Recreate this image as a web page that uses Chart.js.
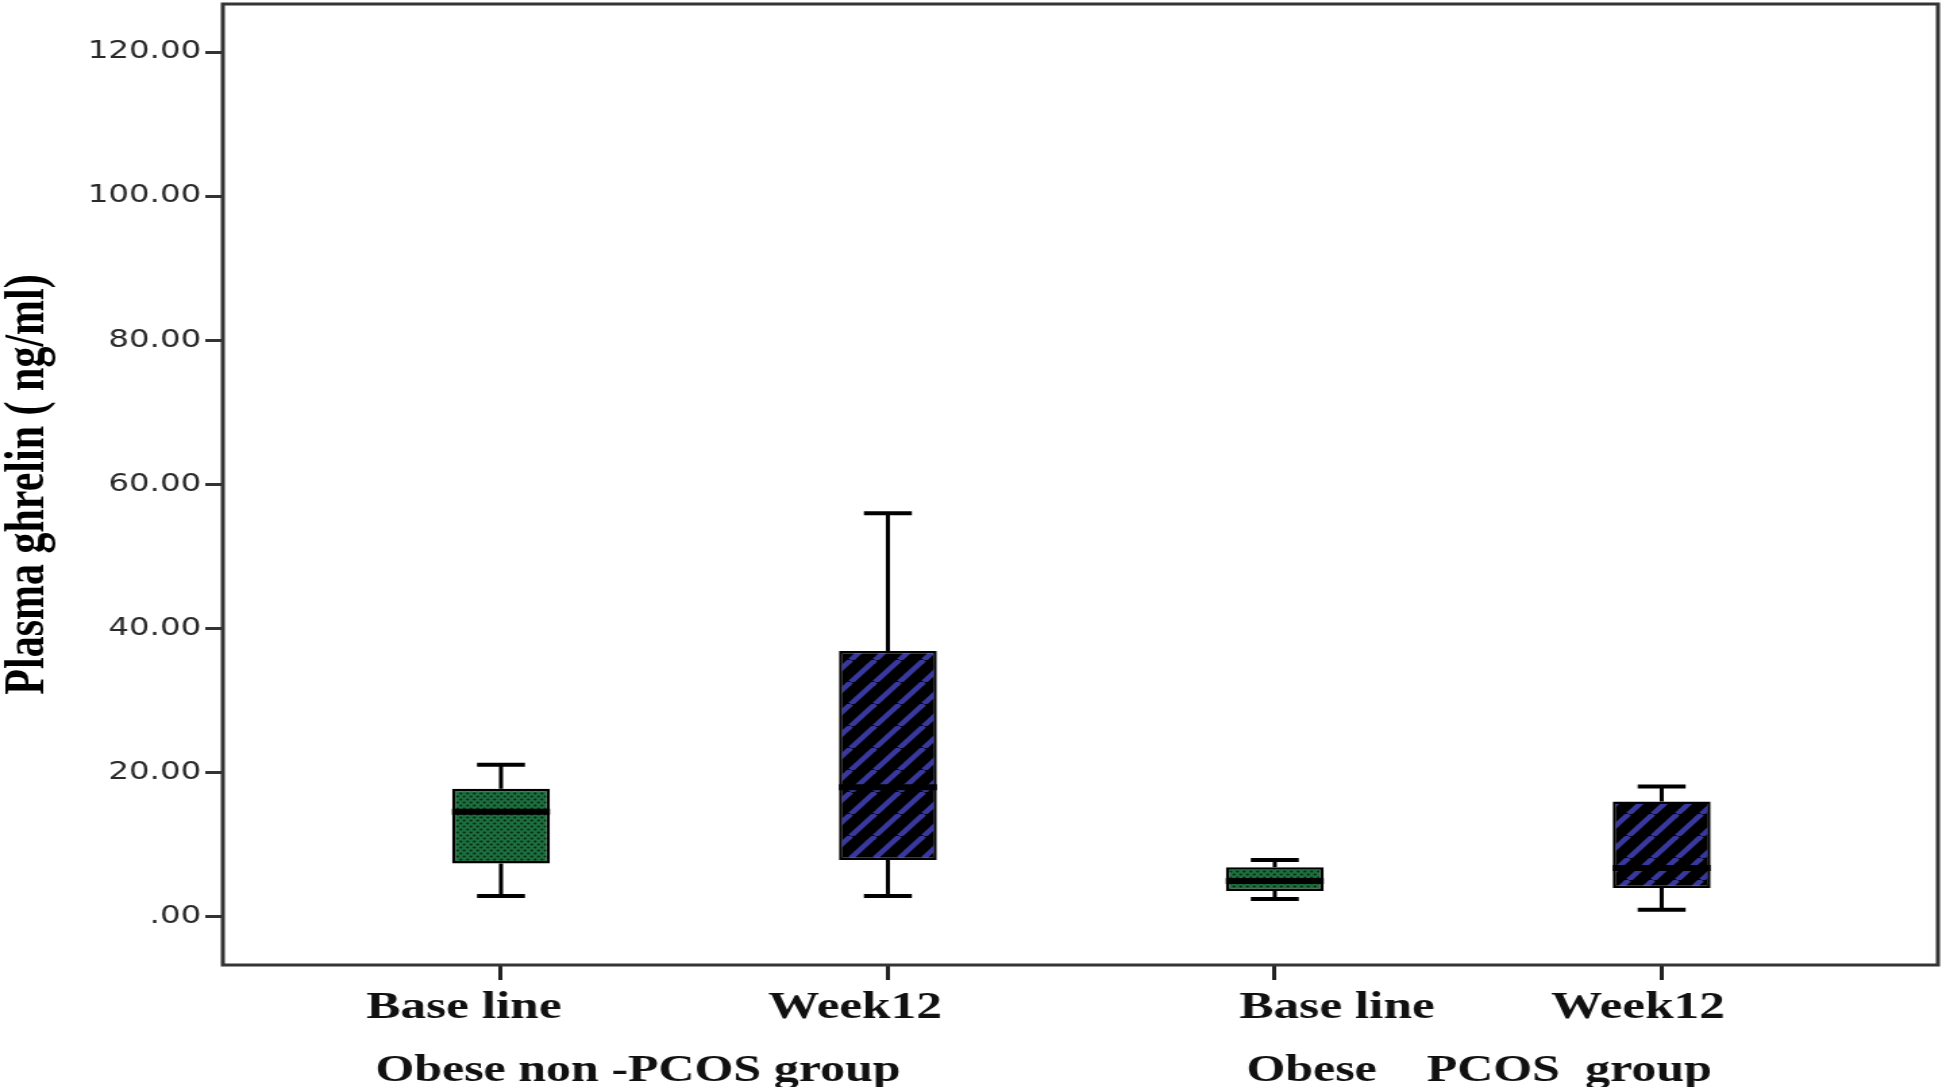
<!DOCTYPE html>
<html>
<head>
<meta charset="utf-8">
<title>Plasma ghrelin</title>
<script src="https://cdn.jsdelivr.net/npm/chart.js@4/dist/chart.umd.min.js"></script>
<style>
  html, body { margin: 0; padding: 0; background: #fff; overflow: hidden; }
  #plot { display: block; }
</style>
</head>
<body>
<!-- the source figure is stretched sideways, so the canvas is drawn narrow and widened by css -->
<canvas id="plot" width="1441" height="1087" style="width:1946px;height:1087px"></canvas>
<script>
const groups = ['Obese non -PCOS group', 'Obese    PCOS  group'];
const timepoints = ['Base line', 'Week12', 'Base line', 'Week12'];
const mins = [2.9, 2.9, 2.5, 1.0];
const q1s = [7.4, 7.9, 3.6, 4.0];
const medians = [14.6, 18.0, 5.0, 6.8];
const q3s = [17.8, 36.9, 6.9, 16.0];
const maxs = [21.1, 56.0, 7.9, 18.1];
const yTicks = [0, 20, 40, 60, 80, 100, 120];

// layout bits (x in axis units)
const positions = [1, 2, 3, 4];
const labelAt = [0.904, 1.915, 3.161, 3.939];
const groupAt = [1.354, 3.528];
const boxHalf = 0.1265;
const capHalf = 0.062;

function dotPattern() {
  const c = document.createElement('canvas');
  c.width = 5;
  c.height = 6;
  const g = c.getContext('2d');
  g.fillStyle = '#1d7040';
  g.fillRect(0, 0, 5, 6);
  g.fillStyle = '#08240f';
  g.beginPath();
  g.arc(1.25, 1.5, 1.1, 0, Math.PI * 2);
  g.arc(3.75, 4.5, 1.1, 0, Math.PI * 2);
  g.fill();
  return g.createPattern(c, 'repeat');
}

function stripePattern() {
  const w = 18, h = 22;
  const c = document.createElement('canvas');
  c.width = w;
  c.height = h;
  const g = c.getContext('2d');
  g.fillStyle = '#000';
  g.fillRect(0, 0, w, h);
  g.strokeStyle = '#38389e';
  g.lineWidth = 4.5;
  for (const dx of [-w, 0, w]) {
    g.beginPath();
    g.moveTo(dx, h);
    g.lineTo(dx + w, 0);
    g.stroke();
  }
  return g.createPattern(c, 'repeat');
}

const green = dotPattern();
const blue = stripePattern();
const fills = [green, blue, green, blue];

const boxes = positions.map((x, i) => ({x: x, y: [q1s[i], q3s[i]]}));
const whiskers = [];
const caps = [];
const medianLines = [];
positions.forEach((x, i) => {
  whiskers.push({x: x, y: q3s[i]}, {x: x, y: maxs[i]}, {x: x, y: null});
  whiskers.push({x: x, y: q1s[i]}, {x: x, y: mins[i]}, {x: x, y: null});
  caps.push({x: x - capHalf, y: maxs[i]}, {x: x + capHalf, y: maxs[i]}, {x: x, y: null});
  caps.push({x: x - capHalf, y: mins[i]}, {x: x + capHalf, y: mins[i]}, {x: x, y: null});
  medianLines.push({x: x - boxHalf, y: medians[i]}, {x: x + boxHalf, y: medians[i]}, {x: x, y: null});
});

const serif = 'Liberation Serif, Times New Roman, serif';
const xMin = 0.281, xMax = 4.714;

const framePlugin = {
  id: 'frame',
  afterDatasetsDraw(chart) {
    const {ctx, chartArea: a} = chart;
    ctx.save();
    ctx.strokeStyle = '#353535';
    ctx.lineWidth = 3;
    ctx.strokeRect(a.left, a.top, a.right - a.left, a.bottom - a.top);
    ctx.restore();
  }
};

function bottomAxis(weight, where, texts, font, pad, height) {
  return {
    type: 'linear',
    position: 'bottom',
    weight: weight,
    min: xMin,
    max: xMax,
    offset: false,
    grid: {display: false},
    border: {display: false},
    ticks: {
      autoSkip: false,
      maxRotation: 0,
      padding: pad,
      color: '#111',
      font: font,
      callback: (v, i) => texts[i]
    },
    afterBuildTicks: s => { s.ticks = where.map(v => ({value: v})); },
    afterFit: s => { s.height = height; s.paddingLeft = 0; s.paddingRight = 0; }
  };
}

new Chart(document.getElementById('plot'), {
  data: {
    datasets: [
      {
        type: 'bar',
        data: boxes,
        backgroundColor: fills,
        borderColor: '#000',
        borderWidth: 2.5,
        borderSkipped: false,
        categoryPercentage: 1,
        barPercentage: 0.253,
        order: 3
      },
      {
        type: 'line',
        data: whiskers,
        borderColor: '#000',
        borderWidth: 3,
        pointRadius: 0,
        spanGaps: false,
        order: 2
      },
      {
        type: 'line',
        data: caps,
        borderColor: '#000',
        borderWidth: 4,
        pointRadius: 0,
        spanGaps: false,
        order: 2
      },
      {
        type: 'line',
        data: medianLines,
        borderColor: '#000',
        borderWidth: 6,
        pointRadius: 0,
        spanGaps: false,
        order: 1
      }
    ]
  },
  options: {
    responsive: false,
    animation: false,
    layout: {padding: {left: 0, right: 6, top: 4, bottom: 0}},
    plugins: {legend: {display: false}, tooltip: {enabled: false}},
    scales: {
      x: {
        type: 'linear',
        position: 'bottom',
        weight: 0,
        min: xMin,
        max: xMax,
        offset: false,
        grid: {offset: false, drawOnChartArea: false, drawTicks: true, tickLength: 15, color: '#222', lineWidth: 3},
        border: {display: false},
        ticks: {display: false},
        afterBuildTicks: s => { s.ticks = positions.map(v => ({value: v})); },
        afterFit: s => { s.height = 15; }
      },
      xLab: bottomAxis(1, labelAt, timepoints, {family: serif, weight: 'bold', size: 38, lineHeight: 1}, 1, 56),
      xGrp: bottomAxis(2, groupAt, groups, {family: serif, weight: 'bold', size: 37, lineHeight: 1}, 8.5, 51),
      y: {
        type: 'linear',
        min: -6.67,
        max: 126.67,
        grid: {drawOnChartArea: false, drawTicks: true, tickLength: 13, color: '#333', lineWidth: 3},
        border: {display: false},
        ticks: {
          padding: 3,
          color: '#2a2a2a',
          font: {family: 'DejaVu Sans', size: 24},
          callback: v => v === 0 ? '.00' : v.toFixed(2)
        },
        afterBuildTicks: s => { s.ticks = yTicks.map(v => ({value: v})); },
        afterFit: s => { s.width = 165; s.paddingTop = 0; s.paddingBottom = 0; },
        title: {
          display: true,
          text: 'Plasma ghrelin ( ng/ml)',
          color: '#000',
          font: {family: serif, weight: 'bold', size: 42, lineHeight: 1},
          padding: {top: 0, bottom: 0}
        }
      }
    }
  },
  plugins: [framePlugin]
});
</script>
</body>
</html>
